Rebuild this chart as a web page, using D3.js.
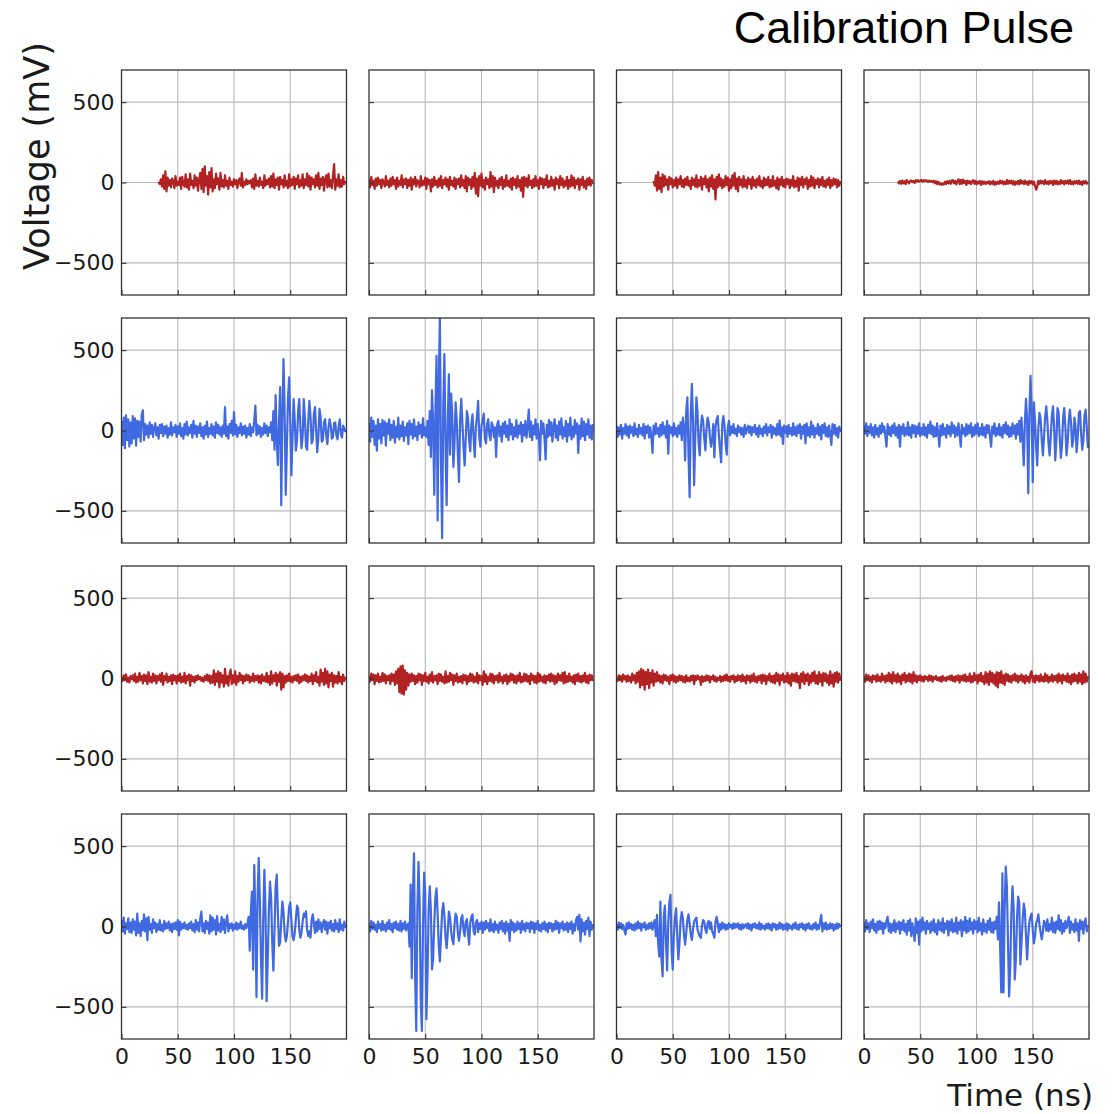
<!DOCTYPE html>
<html>
<head>
<meta charset="utf-8">
<script src="https://cdn.jsdelivr.net/npm/d3@7"></script>
<style>
  body { margin: 0; background: #ffffff; }
  svg { display: block; }
</style>
</head>
<body>
<svg id="chart" width="1116" height="1114"></svg>
<script>
// ---- axis settings ----
const timeTicks = [0, 50, 100, 150];
const voltTicks = [-500, 0, 500];
const timeDomain = [0, 200];
const voltDomain = [-700, 700];
const sampleNs = 1;

// first sample time (ns) of each channel, row-major 4x4 grid
const startNs = [33, 0, 33, 30,  0, 0, 0, 0,  0, 0, 0, 0,  0, 0, 0, 0];

// ---- waveforms (mV), one sample per ns ----
// row 1
const ch00 = [5,-10,20,-25,45,-40,70,-55,30,-20, 15,-30,25,10,-35,40,-20,5,-15,30,
  -40,35,-10,-25,50,-30,20,-45,55,-15, 10,-35,45,-20,30,-50,15,60,-40,85,
  -60,100,-20,40,-75,65,-30,90,-55,20, -35,55,-10,25,-45,60,-25,15,-30,45,
  -20,10,-40,30,-15,5,-25,20,-10,15, -35,10,25,-20,60,-30,5,-15,20,-10,
  10,-5,15,-30,25,-40,50,-20,10,-25, 30,-15,5,-35,45,-20,15,-10,25,-30,
  40,-25,55,-35,20,-15,30,-45,35,-10, 15,-30,45,-20,10,-35,50,-25,20,-15,
  35,-40,25,-10,45,-30,15,-20,50,-35, 20,-15,55,-25,40,-45,30,-10,20,-30,
  45,-20,60,-40,25,-15,35,-50,20,45, -30,55,-25,15,-35,40,115,-45,20,-20,
  50,-30,15,-25,35,-10,10];
const ch01 = [20,-30,35,-15,10,-40,25,-20,30,-10, 15,-35,20,5,-25,40,-15,10,-30,25,
  -20,35,-10,15,-40,30,-25,10,-15,45, -30,20,-10,25,-35,15,-20,30,-45,20,
  -10,35,-25,15,5,-30,40,-20,10,-15, 30,-40,25,-10,15,-55,20,-25,35,-15,
  10,-30,25,-20,40,-35,15,-10,30,-25, 20,-45,35,-15,10,-25,30,-40,20,-10,
  25,-30,45,-20,15,-35,40,-55,30,-15, 20,-40,35,-25,60,-70,25,-85,40,-20,
  55,-30,15,-45,30,-10,20,-35,65,-25, 40,-60,30,-20,10,-35,25,-15,35,-40,
  15,-25,45,-20,10,-30,25,-45,30,-15, 20,-35,40,-25,15,-50,30,-90,35,-20,
  25,-30,45,-15,10,-35,20,-25,40,-20, 15,-40,30,-10,25,-35,20,-15,45,-30,
  10,-25,35,-20,15,-45,30,-10,20,-35, 40,-15,25,-30,10,-20,35,-40,15,-25,
  45,-20,30,-35,15,-10,25,-45,20,-15, 35,-30,10,-40,25,-15,30,-20,15,-10];
const ch02 = [10,-20,45,-50,65,-40,30,-60,50,-25, 40,-15,20,-45,35,-10,25,-30,15,-20,
  30,-35,20,-10,40,-25,15,-30,25,-15, 35,-20,10,-40,30,-15,20,-25,45,-30,
  15,-20,35,-45,25,-10,40,-30,20,-55, 30,-25,45,-40,20,-105,35,-30,50,-20,
  25,-35,15,-25,40,-15,30,-50,20,-35, 45,-20,60,-40,25,-55,35,-15,20,-30,
  40,-25,15,-35,30,-10,20,-40,35,-20, 15,-30,25,-15,40,-25,10,-35,30,-20,
  20,-15,35,-30,15,-25,40,-20,10,-35, 30,-45,20,-15,35,-25,15,-30,25,-10,
  20,-35,15,-20,40,-30,10,-25,30,-50, 25,-15,35,-30,20,-10,30,-40,15,-25,
  40,-20,30,-35,15,-10,25,-30,20,-15, 35,-25,10,-30,20,-15,30,-35,15,-20,
  25,-10,20,-30,15,-20,10];
const ch03 = [5,-5,10,-8,12,-5,8,-10,15,5, -5,10,12,2,10,-3,14,6,15,5,
  10,16,6,14,8,15,10,4,12,6, 10,2,12,-5,8,-10,5,-12,-5,-15,
  -8,-12,5,-10,8,-5,10,-8,12,15, -5,10,-12,8,20,-10,15,-8,18,-5,
  10,-15,12,-5,8,-10,5,15,-8,10, -12,5,-5,10,-15,8,-8,5,-10,3,
  -5,8,-12,5,-8,10,-15,3,-10,5, -8,12,-5,8,-12,5,-10,15,-8,10,
  -5,12,-10,8,-15,5,-8,10,-12,15, -5,8,-10,12,-8,5,-15,10,-5,8,
  -12,5,-20,-45,-25,10,-8,12,-5,8, -10,15,-8,5,-12,10,-5,8,-15,12,
  -8,10,-12,5,-10,15,-5,8,-12,10, -5,12,-8,15,-10,5,-12,8,-5,10,
  -8,12,-10,5,-15,8,-5,10,-8,5];
// row 2
const ch04 = [60,-90,80,-110,95,-60,70,-100,50,-80, 90,-50,75,-95,60,-40,55,-70,100,125,
  -60,40,-25,30,-45,50,-20,35,-40,15, 45,-30,20,-50,35,-15,40,-35,25,-20,
  30,-45,15,-25,50,-30,20,-10,35,-40, 25,-20,45,-35,15,-50,40,-25,55,-30,
  20,-15,35,-45,60,-20,30,-40,25,-15, 45,-35,20,-50,30,-25,55,-40,15,-20,
  40,-30,25,-45,50,-15,35,-25,20,-40, 30,-20,145,-35,25,-50,40,-15,60,-30,
  115,-25,35,-40,20,-15,45,-30,25,-20, 30,-45,15,-25,40,-35,20,-10,60,155,
  -30,35,-20,25,-40,15,-25,45,-15,30, -35,20,-10,50,-60,120,-120,220,-60,-215,
  50,270,-465,80,445,120,-400,-100,200,330, 60,-280,-50,195,60,-125,-60,120,195,20,
  -110,-40,195,80,-100,-120,60,185,90,-80, -60,100,145,0,-135,-40,135,80,-70,-60,
  50,70,-30,-85,20,70,30,-50,-40,45, 50,-30,-55,25,70,-20,-45,30,15,-10];
const ch05 = [50,-70,80,-40,60,-90,30,-125,70,-50, 40,-80,65,-30,55,-95,45,-20,70,-60,
  35,-45,60,-75,25,-40,80,-55,30,-35, 55,-65,20,-30,45,-85,60,-25,40,-50,
  70,-35,25,-60,50,-20,35,-45,75,-30, 20,-40,60,-90,120,-165,250,50,-400,100,
  465,-560,300,700,-200,-670,150,475,-100,-465, 50,350,-150,230,100,-227,-80,175,60,-150,
  -320,60,197,50,-100,-217,-50,120,80,-60, -130,40,100,-50,-165,20,90,185,-40,-100,
  30,60,105,-50,-80,40,70,-30,-60,50, 30,-40,20,-165,40,60,-35,25,-70,45,
  -20,55,-40,30,-60,70,-25,40,-55,20, -35,65,-45,30,-20,50,-70,35,-30,60,
  -45,25,130,-40,55,-60,30,-25,70,-50, 40,-35,-185,60,-20,45,-50,-180,35,-40,
  65,-30,50,-70,25,70,-45,30,-60,55, -25,75,-50,20,-35,60,-70,40,-30,80,
  -55,25,-40,65,-20,45,-140,30,-50,75, -35,55,-60,40,-25,70,-45,30,-55,40];
const ch06 = [30,-40,20,-25,35,-50,15,-20,40,-30, 25,-45,30,-15,20,-35,45,-25,10,-40,
  35,-20,15,-30,40,-50,25,-15,30,-45, 20,-35,-140,30,-25,45,-20,15,-40,35,
  -30,50,-20,25,-45,60,-145,30,-15,20, -35,45,-25,15,-40,30,-20,50,-60,80,
  20,-186,120,207,-150,-415,100,290,60,-340, -50,207,120,-80,-155,20,93,60,-50,-124,
  10,80,50,-40,-100,-60,40,-167,20,70, 90,-30,-120,-198,40,90,30,-80,-150,20,
  60,-30,25,-15,40,-20,10,-35,30,-10, 20,-25,15,-40,35,-20,10,30,-15,25,
  -30,20,-10,35,-25,15,-40,30,-20,10, -35,25,-15,40,-30,20,-10,35,-45,25,
  -20,15,-30,40,-25,62,-35,20,-83,30, -15,25,-40,35,-20,15,-30,45,-25,20,
  -35,30,-15,40,-50,25,-20,35,-80,45, -30,20,-40,55,-25,30,-45,15,-20,40,
  -30,25,-55,35,-15,45,-35,20,-40,30, -25,-90,40,-20,35,-30,15,-45,25,-10];
const ch07 = [30,-20,45,-35,25,-15,40,-30,20,-45, 35,-25,15,-40,30,-20,45,-10,25,-35,
  -100,40,-25,20,-35,30,-15,45,-30,20, -45,35,-100,25,-20,40,-35,15,-25,50,
  -30,20,-45,35,-15,30,-40,25,-20,45, -35,15,-25,40,-30,20,-45,35,-15,55,
  -25,30,-40,20,-35,45,-20,-100,30,-30, 40,-25,15,-45,35,-20,25,-35,50,-15,
  30,-40,20,-30,45,-25,-100,35,-20,15, -35,40,-25,30,-15,45,-40,20,-30,35,
  -20,45,-35,15,-25,40,-30,20,-45,35, -15,30,-40,-100,25,-20,45,-35,15,-25,
  40,-30,20,-45,35,-15,50,-25,30,-40, 20,-35,45,-20,30,-50,40,-25,60,-70,
  80,-50,-217,50,197,60,-390,100,340,120, -322,175,60,-100,-217,20,110,70,-60,-155,
  -40,80,150,60,-80,-155,-40,90,150,20, -186,-60,140,110,-50,-170,-90,80,140,20,
  -155,-80,60,130,50,-100,-60,80,30,-135, -40,110,120,-20,-120,-60,90,130,20,-110];
// row 3
const ch08 = [10,-15,20,-10,25,-20,5,-25,15,-5, 20,-15,30,-25,10,-20,35,-10,15,-30,
  25,-15,20,-35,40,-20,10,-25,30,-15, 20,-30,15,-10,25,-20,35,-40,15,-10,
  30,-25,10,-15,20,-35,25,-10,15,-30, 20,-15,30,-25,10,-20,35,-30,15,-10,
  25,-45,20,-15,10,-25,15,-10,20,-5, 10,-15,5,-20,15,-10,25,-15,20,-30,
  15,-25,50,-40,30,-20,45,-55,35,-25, 20,-50,60,-30,15,-45,25,55,-35,20,
  -25,45,-40,15,-20,35,-10,20,-30,15, -15,25,-10,20,-25,10,-15,30,-20,15,
  -10,20,-25,15,-30,25,-15,10,-20,35, -25,15,-40,45,-30,20,-15,35,-45,25,
  -20,40,-70,30,-55,15,-25,20,-15,30, -20,10,-25,15,-10,20,-15,25,-30,10,
  -20,15,-10,25,-15,20,-25,10,-15,30, -35,20,-15,40,-25,10,-45,55,-20,35,
  -40,60,-30,45,-55,25,-15,35,-50,20, -25,15,-30,40,-20,10,-35,25,-15,10];
const ch09 = [15,-20,30,-10,25,-35,20,-15,30,-25, 10,-20,35,-15,25,-30,15,-10,20,-35,
  30,-15,25,-40,45,-30,60,-85,75,-95, 80,-100,50,-70,35,-45,25,-20,30,-15,
  20,-35,15,-25,30,-10,25,-40,20,-15, 35,-20,10,-30,25,-15,40,-25,15,-10,
  20,-35,30,-15,25,-20,10,-30,45,-25, 15,-20,35,-10,25,-40,20,-15,30,-25,
  10,-20,15,-30,25,-10,20,-35,15,-20, 30,-15,25,-25,10,-20,35,-30,20,-10,
  15,-40,45,-20,25,-35,10,-15,30,-20, 25,-30,15,-10,20,-25,35,-15,10,-30,
  20,-15,25,-35,15,-20,30,-10,25,-25, 15,-30,20,-15,35,-25,10,-20,30,-15,
  25,-20,15,-35,30,-10,20,-25,15,-30, 35,-20,25,-15,10,-25,20,-30,15,-10,
  25,-20,30,-15,20,-35,15,-25,30,-10, 20,-15,35,-30,40,-25,15,-20,30,-15,
  10,-25,20,-35,25,-15,30,-20,15,-25, 20,-15,35,-25,15,-30,25,-10,20,-15];
const ch10 = [10,-15,20,-10,15,-20,25,-5,15,-20, 20,-15,10,-25,30,-10,20,-30,35,-20,
  45,-55,60,-40,50,-70,40,-35,55,-60, 35,-25,50,-45,30,-20,40,-15,20,-25,
  15,-30,25,-10,20,-15,10,-35,20,-10, 25,-20,15,-25,10,-15,20,-10,15,-20,
  10,-25,20,-15,5,-20,15,-10,20,-35, 15,-10,20,-5,10,-40,15,-20,10,-15,
  20,-10,15,-25,10,-5,20,-15,10,-20, 5,-10,15,-20,10,-15,20,-10,25,-15,
  10,-20,15,-5,20,-25,10,-15,20,-10, 15,-20,25,-15,10,-30,20,-10,15,-25,
  20,-15,30,-20,10,-25,15,-10,20,-30, 25,-15,20,-35,15,-10,30,-20,15,-25,
  20,-30,35,-15,25,-40,20,-10,30,-25, 15,-20,35,-30,20,-45,30,-15,25,-20,
  35,-25,15,-60,30,-20,40,-35,25,-15, 30,-40,20,-25,35,-15,45,-30,20,-35,
  40,-20,25,-45,35,-15,30,-25,20,-40, 45,-30,25,-50,35,-20,40,-25,30,-15];
const ch11 = [15,-20,25,-10,20,-15,10,-25,20,-5, 15,-20,25,-15,10,-20,30,-10,15,-25,
  20,-15,35,-20,25,-30,40,-15,20,-25, 30,-20,15,-35,25,-10,35,-25,20,-15,
  30,-20,25,-30,40,-15,20,-25,15,-10, 20,-15,10,-20,15,-5,10,-15,20,-10,
  15,-20,10,-5,15,-10,5,-15,10,-20, 15,-10,5,-15,10,-5,15,-10,20,-15,
  10,-20,15,-10,20,-25,15,-10,20,-15, 25,-20,10,-15,30,-25,15,-20,35,-10,
  20,-30,25,-15,35,-20,15,-35,40,-25, 30,-40,45,-20,35,-30,25,-45,40,-55,
  35,-25,45,-30,20,-40,30,-15,25,-20, 15,-25,20,-10,30,-15,20,-25,15,-10,
  25,-20,15,-30,20,-15,10,-25,30,45, -20,15,-25,20,-10,15,-20,25,-15,10,
  -20,30,-15,20,-25,10,-15,25,-20,15, -10,20,-25,30,-15,20,-30,25,-10,15,
  -20,30,-25,15,-35,25,-20,30,-15,20, -30,35,-20,25,-35,45,-25,30,-20,15];
// row 4
const ch12 = [40,-30,55,-45,20,-15,50,-35,25,-40, 45,-20,30,-55,80,-40,20,-60,35,-25,
  75,-30,50,-85,60,-20,15,-40,45,-10, 25,-35,15,-20,40,-25,10,-30,35,-15,
  20,-10,30,-25,15,-35,20,-15,25,-20, 40,-55,30,-20,15,-10,25,-15,10,-20,
  20,-10,30,-25,15,-35,40,-20,25,-30, 50,93,-30,20,-40,35,-15,25,-45,70,
  -30,55,-20,40,-50,65,-25,15,-35,60, -20,45,-40,25,70,-30,15,-10,20,-25,
  10,-15,25,-20,15,-10,30,-15,5,-20, 15,-10,20,60,-150,100,217,-268,383,50,
  -440,200,425,150,-200,-450,50,353,100,-465, -200,100,280,180,-100,-275,-30,250,323,80,
  -120,-100,40,155,90,-40,-93,-60,30,120, 150,40,-60,-85,-40,50,130,110,-20,-70,
  -40,30,80,60,95,-20,-60,-30,-70,40, 75,20,-40,30,-30,45,-15,25,-35,15,
  40,-20,30,-45,25,-10,35,-25,15,-30, 40,-15,20,-35,45,-20,10,-25,30,-10];
const ch13 = [20,-30,35,-15,25,-20,10,-35,30,-10, 15,-25,35,-20,10,-30,25,-15,40,-20,
  15,-35,25,-10,30,-20,15,-25,35,-30, 20,-15,30,-25,10,20,-125,260,-322,200,
  455,-300,-650,100,403,150,-450,-650,0,335, 200,-577,-300,100,250,100,-267,-200,20,180,
  237,80,-120,-217,-60,90,145,70,-60,-135, -40,93,60,-30,-80,-110,10,80,60,-40,
  -90,-30,50,70,-20,-60,30,45,-40,-113, 20,60,75,-30,-50,25,40,-35,20,-15,
  30,-40,25,-20,35,-10,20,-30,45,-25, 15,-35,30,-20,10,-40,25,-15,35,-30,
  20,-45,30,-25,15,-90,40,-20,25,-35, 15,-25,30,-15,20,-40,35,-20,15,-30,
  25,-10,20,-35,30,-15,25,-40,20,-15, 35,-25,10,-30,20,-15,30,-25,15,-35,
  25,-10,20,-30,15,-20,35,-15,25,-40, 20,-10,30,-25,15,-20,25,-35,20,-15,
  30,-45,15,-25,40,60,-20,72,-93,45, -30,25,-50,35,-15,55,-60,30,-20,15];
const ch14 = [15,-20,25,-10,20,-15,10,-25,-50,20, -15,25,-10,15,-20,10,-25,20,-15,30,
  -10,20,-25,15,-5,25,-20,10,-15,20, -10,25,-20,15,40,-60,72,-100,-186,155,
  -200,-310,60,130,-100,-273,20,150,197,-150, -268,-50,60,113,-60,-205,-100,40,90,50,
  -50,-113,-40,40,75,20,-50,-83,-20,30, 45,55,-20,-40,-60,-70,10,40,30,-20,
  -40,20,35,-15,25,-30,-45,-70,30,60, 20,-35,15,-20,25,-10,15,-20,10,-15,
  20,-5,10,-15,20,-10,15,-5,20,-15, 10,-20,15,-10,5,15,-10,20,-15,10,
  -25,15,-5,20,-10,10,-15,25,-20,15, -10,5,-20,15,-10,20,-15,10,-25,20,
  -5,15,-20,10,-15,25,-10,15,-20,10, -15,20,-25,15,-10,5,-20,15,-10,25,
  -15,10,-20,15,-5,20,-15,10,-25,15, -10,20,-15,5,-20,15,-10,25,-20,10,
  -15,30,72,-30,20,-15,25,-20,10,-15, 20,-10,15,-25,10,-15,20,-10,15,-5];
const ch15 = [25,-30,40,-15,20,-35,30,-10,45,-25, 15,-40,30,-20,35,-15,25,-45,20,-10,
  35,60,-30,20,-40,15,-25,40,-35,20, -15,30,-45,25,-20,40,-30,15,-50,35,
  -25,45,-60,20,-35,-90,50,-40,30,-113, 40,-30,55,-20,25,-45,35,-15,20,-40,
  30,-25,45,-35,15,-50,40,-20,25,-30, 50,-40,20,-15,35,-55,30,-25,45,-35,
  20,-30,55,-45,25,-20,40,-60,30,-25, 60,-40,35,-30,50,-20,25,-45,40,-15,
  30,-35,55,-25,20,-50,45,-30,15,-40, 35,-20,50,-35,25,-40,30,-15,60,-80,
  150,-120,-410,330,-410,100,372,250,-100,-435, -250,80,250,120,-330,-200,50,186,150,-236,
  -100,40,143,100,-60,-205,-60,30,60,80, -20,-105,-60,20,40,75,10,-40,-80,-30,
  35,20,-25,45,-30,15,-20,55,-35,25, -40,30,-15,70,-25,40,-45,20,-30,35,
  -10,25,60,-40,30,-20,15,-35,45,-25, 20,-90,40,-15,30,-45,25,50,-30,10];

const channels = [ch00, ch01, ch02, ch03, ch04, ch05, ch06, ch07,
                  ch08, ch09, ch10, ch11, ch12, ch13, ch14, ch15];

// ---- layout ----
const W = 1116, H = 1114;
const panelSize = 225;
const colLeft = c => 121.5 + c * 247.5;
const rowTop = r => 70 + r * 248;
const redTrace = "#b22222";
const blueTrace = "#4169e1";

const svg = d3.select("#chart");
svg.append("rect").attr("width", W).attr("height", H).attr("fill", "#ffffff");

const x = d3.scaleLinear().domain(timeDomain).range([0, panelSize]);
const y = d3.scaleLinear().domain(voltDomain).range([panelSize, 0]);

const line = d3.line()
  .x(d => x(d.t))
  .y(d => y(d.v));

channels.forEach((values, i) => {
  const r = Math.floor(i / 4), c = i % 4;
  const g = svg.append("g").attr("transform", `translate(${colLeft(c)},${rowTop(r)})`);

  // grid
  g.append("g").selectAll("line").data(timeTicks.filter(t => t > timeDomain[0])).join("line")
    .attr("x1", d => x(d)).attr("x2", d => x(d))
    .attr("y1", 0).attr("y2", panelSize)
    .attr("stroke", "#b9b9b9").attr("stroke-width", 1.1);
  g.append("g").selectAll("line").data(voltTicks).join("line")
    .attr("x1", 0).attr("x2", panelSize)
    .attr("y1", d => y(d)).attr("y2", d => y(d))
    .attr("stroke", "#b9b9b9").attr("stroke-width", 1.1);

  // trace
  const clipId = `clip${i}`;
  g.append("clipPath").attr("id", clipId)
    .append("rect").attr("width", panelSize).attr("height", panelSize);
  const pts = values.map((v, k) => ({ t: startNs[i] + k * sampleNs, v }));
  g.append("path")
    .datum(pts)
    .attr("clip-path", `url(#${clipId})`)
    .attr("fill", "none")
    .attr("stroke", (r % 2 === 0) ? redTrace : blueTrace)
    .attr("stroke-width", 2.2)
    .attr("stroke-linejoin", "round")
    .attr("d", line);

  // axes with inward ticks
  const yAxis = d3.axisLeft(y).tickValues(voltTicks).tickSize(-5).tickPadding(7);
  if (c !== 0) yAxis.tickFormat("");
  const ya = g.append("g").call(yAxis);
  const xAxis = d3.axisBottom(x).tickValues(timeTicks).tickSize(-5).tickPadding(9);
  if (r !== 3) xAxis.tickFormat("");
  const xa = g.append("g").attr("transform", `translate(0,${panelSize})`).call(xAxis);
  [ya, xa].forEach(a => {
    a.select(".domain").remove();
    a.selectAll(".tick line").attr("stroke", "#333").attr("stroke-width", 1.1);
    a.selectAll(".tick text")
      .attr("fill", "#1a1a1a")
      .style("font-family", "DejaVu Sans, sans-serif")
      .style("font-size", "22px");
  });

  // frame
  g.append("rect")
    .attr("width", panelSize).attr("height", panelSize)
    .attr("fill", "none").attr("stroke", "#333").attr("stroke-width", 1.3);
});

// labels
svg.append("text")
  .attr("x", 1074).attr("y", 43)
  .attr("text-anchor", "end")
  .style("font-family", "Liberation Sans, Arial, sans-serif")
  .style("font-size", "45px")
  .attr("fill", "#000")
  .text("Calibration Pulse");

svg.append("text")
  .attr("transform", "translate(49,156) rotate(-90)")
  .attr("text-anchor", "middle")
  .style("font-family", "DejaVu Sans, sans-serif")
  .style("font-size", "35px")
  .attr("fill", "#1a1a1a")
  .text("Voltage (mV)");

svg.append("text")
  .attr("x", 1093).attr("y", 1106)
  .attr("text-anchor", "end")
  .style("font-family", "DejaVu Sans, sans-serif")
  .style("font-size", "31px")
  .attr("fill", "#1a1a1a")
  .text("Time (ns)");
</script>
</body>
</html>
